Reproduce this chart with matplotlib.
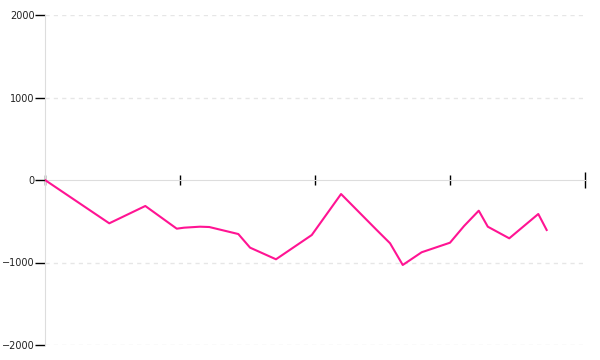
import matplotlib
matplotlib.use("Agg")
import matplotlib.pyplot as plt

x = [0, 47.6, 74.3, 97.6, 103, 114.8, 121.7, 143.2, 151.9, 171.1, 197.6, 219.3,
     245.7, 255.6, 265, 279, 300, 310.4, 321.3, 328, 343.9, 365.4, 371.6]
y = [0, -525, -315, -590, -578, -566, -570, -655, -820, -961, -667, -170,
     -606, -767, -1030, -876, -760, -558, -372, -566, -707, -412, -606]
y_ticks = [-2000, -1000, 0, 1000, 2000]
x_ticks = [0, 100, 200, 300, 400]

fig = plt.figure(figsize=(6, 3.6), dpi=100)
ax = fig.add_axes([45/600, 15/360, 540/600, 330/360])
ax.plot(x, y, color="#ff1493", lw=1.5, zorder=3)
ax.set_xlim(0, 400)
ax.set_ylim(-2000, 2000)
ax.set_yticks(y_ticks)
ax.set_xticks(x_ticks)
ax.set_xticklabels([])
for v in [-2000, -1000, 1000, 2000]:
    ax.axhline(v, color="#e6e6e6", lw=1, ls=(0, (3, 3)), zorder=1)
for s in ["top", "right"]:
    ax.spines[s].set_visible(False)
ax.spines["left"].set_color("#dddddd")
ax.spines["bottom"].set_position(("data", 0))
ax.spines["bottom"].set_color("#dddddd")
ax.spines["bottom"].set_zorder(2)
ax.tick_params(axis="y", direction="out", length=7, width=1, color="black",
               labelsize=7, labelcolor="#222222", pad=0.5)
ax.tick_params(axis="x", direction="inout", length=7, width=1, color="black")
for t in ax.xaxis.get_major_ticks():
    t.tick1line.set_zorder(4)
    t.tick1line.set_clip_on(False)
ax.xaxis.get_major_ticks()[-1].tick1line.set_markersize(11)
fig.savefig("out.png", dpi=100)
